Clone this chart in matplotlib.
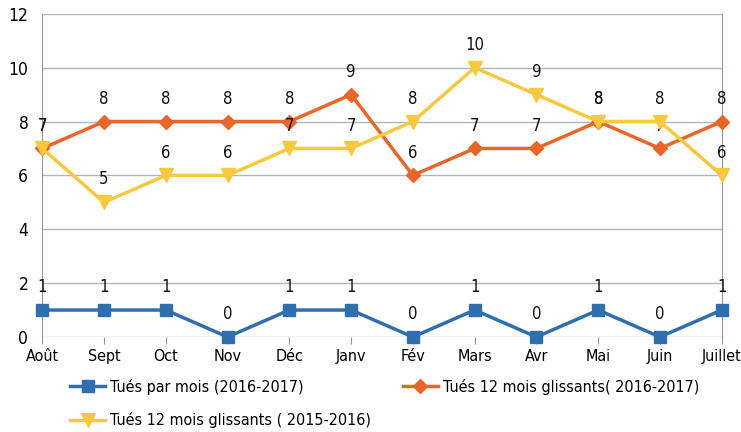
import matplotlib
matplotlib.use('Agg')
import matplotlib.pyplot as plt

months = ['Août', 'Sept', 'Oct', 'Nov', 'Déc', 'Janv', 'Fév', 'Mars', 'Avr', 'Mai', 'Juin', 'Juillet']
tues_mois = [1, 1, 1, 0, 1, 1, 0, 1, 0, 1, 0, 1]
glissants_1617 = [7, 8, 8, 8, 8, 9, 6, 7, 7, 8, 7, 8]
glissants_1516 = [7, 5, 6, 6, 7, 7, 8, 10, 9, 8, 8, 6]

plt.rcParams['font.family'] = ['DejaVu Sans']
plt.rcParams['font.stretch'] = 'condensed'

fig = plt.figure(figsize=(7.41, 4.32), dpi=100)
ax = fig.add_axes([0.057, 0.22, 0.917, 0.748])
x = list(range(len(months)))

ax.plot(x, glissants_1617, color='#e8662a', lw=2.5, marker='D', ms=7, clip_on=False,
        zorder=3, label='Tués 12 mois glissants( 2016-2017)')
ax.plot(x, glissants_1516, color='#f7c840', lw=2.5, marker='v', ms=10, clip_on=False,
        zorder=4, label='Tués 12 mois glissants ( 2015-2016)')
ax.plot(x, tues_mois, color='#2f6fae', lw=2.5, marker='s', ms=9, clip_on=False,
        zorder=5, label='Tués par mois (2016-2017)')

for series in (tues_mois, glissants_1617, glissants_1516):
    for i, v in enumerate(series):
        ax.annotate(str(v), (i, v), xytext=(0, 10), textcoords='offset points',
                    ha='center', va='bottom', fontsize=12, color='#111111')

ax.set_xlim(0, len(months) - 1)
ax.set_ylim(0, 12)
ax.set_yticks(range(0, 13, 2))
ax.set_xticks(x)
ax.set_xticklabels(months, fontsize=11.5)
ax.tick_params(axis='y', labelsize=12.5, length=0, pad=10)
ax.tick_params(axis='x', length=5, color='#8a96a8', pad=4)
ax.grid(axis='y', color='#b0b6c0', lw=1)
ax.set_axisbelow(True)
for s in ('top', 'bottom'):
    ax.spines[s].set_visible(False)
for s in ('left', 'right'):
    ax.spines[s].set_color('#8a96a8')

h, l = ax.get_legend_handles_labels()
order = [2, 1, 0]
fig.legend([h[i] for i in order], [l[i] for i in order], ncol=2, frameon=False,
           loc='lower left', bbox_to_anchor=(0.075, -0.025), fontsize=11.5,
           handlelength=2.2, columnspacing=2.0, handletextpad=0.3, labelspacing=1.1)

fig.savefig('out.png', dpi=100)
